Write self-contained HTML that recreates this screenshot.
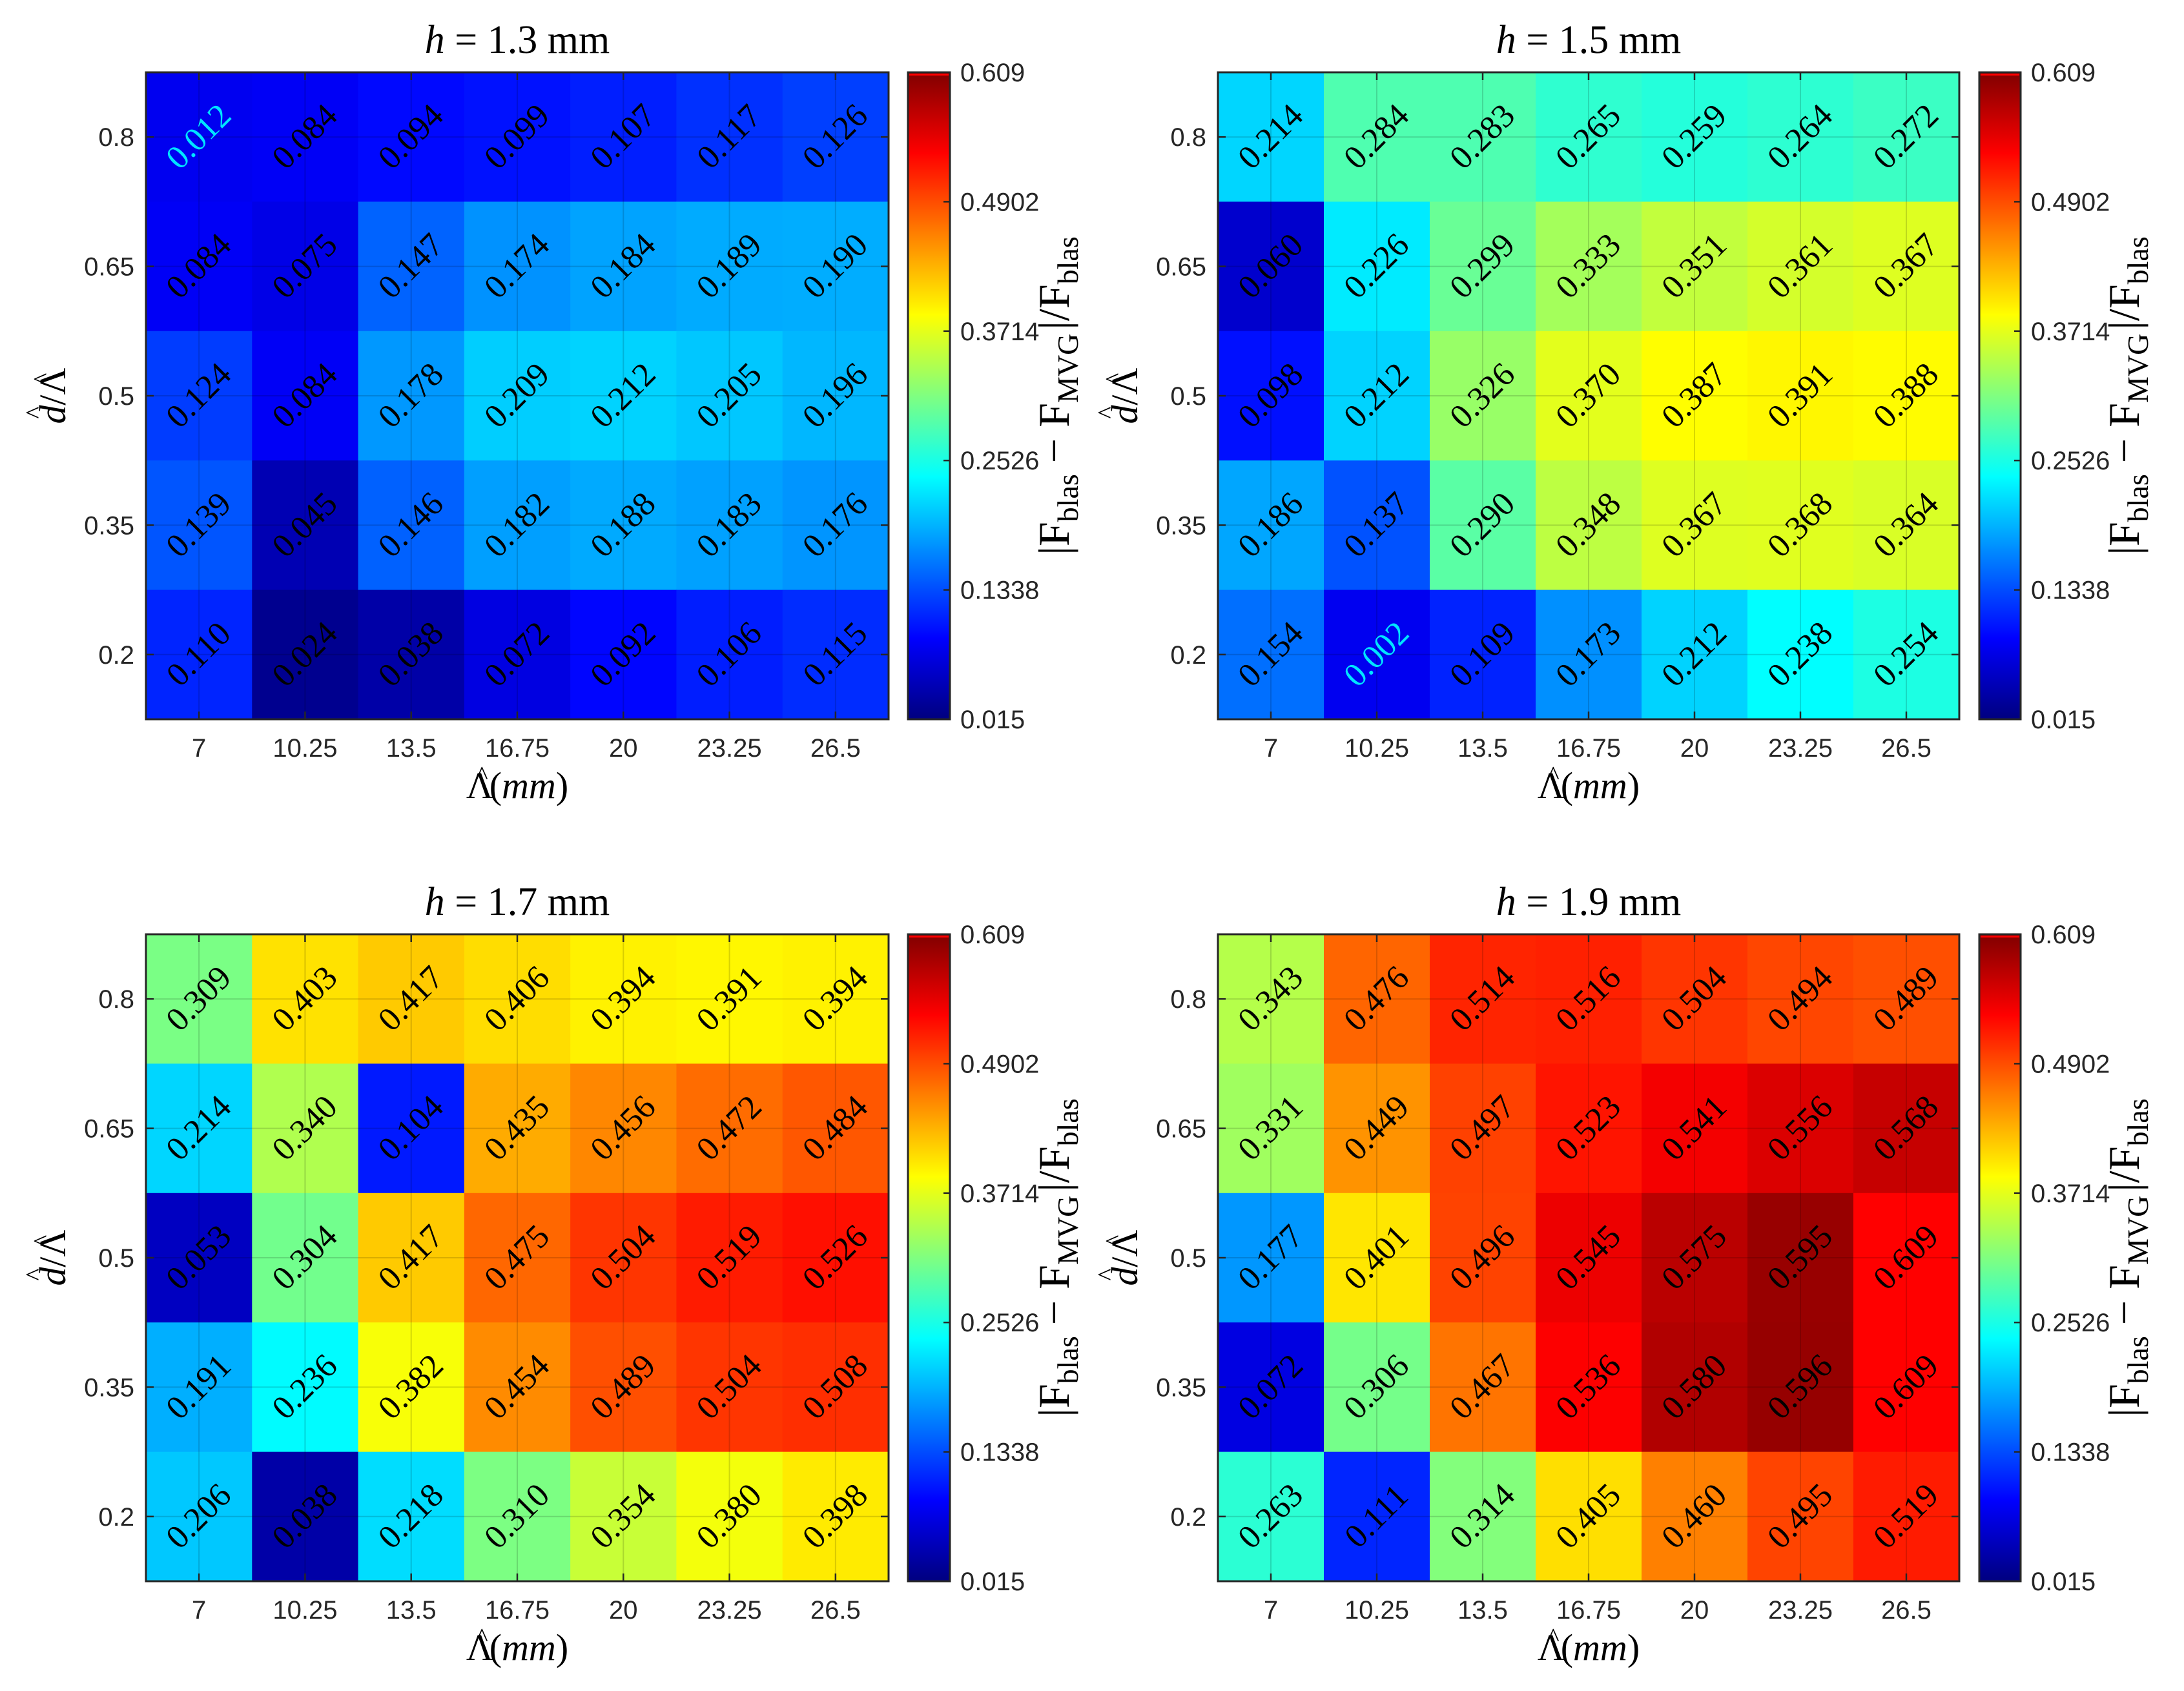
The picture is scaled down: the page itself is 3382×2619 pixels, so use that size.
<!DOCTYPE html>
<html><head><meta charset="utf-8">
<style>
html,body{margin:0;padding:0;background:#fff;}
svg{display:block;}
.tick{font-family:"Liberation Sans",sans-serif;font-size:40px;fill:#262626;}
.serif{font-family:"Liberation Serif",serif;fill:#000;}
</style></head>
<body>
<svg id="fig" width="3382" height="2619" viewBox="0 0 3382 2619" xmlns="http://www.w3.org/2000/svg"></svg>
<script>
// ---- data ----
const xCategories = ["7","10.25","13.5","16.75","20","23.25","26.5"];
const yCategories = ["0.8","0.65","0.5","0.35","0.2"];
const panelTitles = ["1.3","1.5","1.7","1.9"];
const cbTicks = ["0.015","0.1338","0.2526","0.3714","0.4902","0.609"];
const cMin = 0.015, cMax = 0.609;
const values13 = [
 [0.012,0.084,0.094,0.099,0.107,0.117,0.126],
 [0.084,0.075,0.147,0.174,0.184,0.189,0.190],
 [0.124,0.084,0.178,0.209,0.212,0.205,0.196],
 [0.139,0.045,0.146,0.182,0.188,0.183,0.176],
 [0.110,0.024,0.038,0.072,0.092,0.106,0.115]];
const values15 = [
 [0.214,0.284,0.283,0.265,0.259,0.264,0.272],
 [0.060,0.226,0.299,0.333,0.351,0.361,0.367],
 [0.098,0.212,0.326,0.370,0.387,0.391,0.388],
 [0.186,0.137,0.290,0.348,0.367,0.368,0.364],
 [0.154,0.002,0.109,0.173,0.212,0.238,0.254]];
const values17 = [
 [0.309,0.403,0.417,0.406,0.394,0.391,0.394],
 [0.214,0.340,0.104,0.435,0.456,0.472,0.484],
 [0.053,0.304,0.417,0.475,0.504,0.519,0.526],
 [0.191,0.236,0.382,0.454,0.489,0.504,0.508],
 [0.206,0.038,0.218,0.310,0.354,0.380,0.398]];
const values19 = [
 [0.343,0.476,0.514,0.516,0.504,0.494,0.489],
 [0.331,0.449,0.497,0.523,0.541,0.556,0.568],
 [0.177,0.401,0.496,0.545,0.575,0.595,0.609],
 [0.072,0.306,0.467,0.536,0.580,0.596,0.609],
 [0.263,0.111,0.314,0.405,0.460,0.495,0.519]];
const panelValues = [values13, values15, values17, values19];

// ---- layout ----
const NS = "http://www.w3.org/2000/svg";
const svg = document.getElementById('fig');
const layouts = [
 {x0:226,x1:1376,y0:112,y1:1114,cb0:1406,cb1:1471,lab:1655},
 {x0:1886,x1:3034,y0:112,y1:1114,cb0:3065,cb1:3129,lab:3312},
 {x0:226,x1:1376,y0:1447,y1:2449,cb0:1406,cb1:1471,lab:1655},
 {x0:1886,x1:3034,y0:1447,y1:2449,cb0:3065,cb1:3129,lab:3312}];

function mk(tag, attrs, parent){
  const e = document.createElementNS(NS, tag);
  for (const k in attrs) e.setAttribute(k, attrs[k]);
  (parent||svg).appendChild(e);
  return e;
}
function clamp(v){return Math.max(0,Math.min(1,v));}
function jet(v){
  const t = clamp((v-cMin)/(cMax-cMin));
  const r = clamp(1.5-Math.abs(4*t-3)), g = clamp(1.5-Math.abs(4*t-2)), b = clamp(1.5-Math.abs(4*t-1));
  return `rgb(${Math.round(r*255)},${Math.round(g*255)},${Math.round(b*255)})`;
}
function cellColor(v){
  if (v >= cMax - 1e-9) return 'rgb(255,0,0)';
  if (v < cMin) return 'rgb(0,0,240)';
  return jet(v);
}

const defs = mk('defs',{});
const grad = mk('linearGradient',{id:'jetg',x1:0,y1:1,x2:0,y2:0},defs);
for (let i=0;i<=40;i++){
  const v = cMin+(cMax-cMin)*i/40;
  mk('stop',{offset:(i/40),'stop-color':jet(v)},grad);
}

panelValues.forEach((vals,p)=>{
  const L = layouts[p];
  const g = mk('g',{});
  
  
  const nx = xCategories.length, ny = yCategories.length;
  const cw = (L.x1-L.x0)/nx, ch = (L.y1-L.y0)/ny;
  const xs = i => L.x0 + cw*i;
  const ys = j => L.y0 + ch*j;
  vals.forEach((row,j)=>row.forEach((v,i)=>{
    const r = mk('rect',{x:xs(i),y:ys(j),width:cw+0.5,height:ch+0.5,fill:cellColor(v)},g);
    
    
  }));
  for (let i=0;i<nx;i++){
    const x = xs(i)+cw/2;
    mk('line',{x1:x,y1:L.y0,x2:x,y2:L.y1,stroke:'#000','stroke-opacity':0.15,'stroke-width':2},g);
    mk('line',{x1:x,y1:L.y1,x2:x,y2:L.y1-12,stroke:'#262626','stroke-width':2.5},g);
    mk('line',{x1:x,y1:L.y0,x2:x,y2:L.y0+12,stroke:'#262626','stroke-width':2.5},g);
    const t = mk('text',{x:x,y:L.y1+58,'text-anchor':'middle',class:'tick'},g);
    t.textContent = xCategories[i];
    
    
  }
  for (let j=0;j<ny;j++){
    const y = ys(j)+ch/2;
    mk('line',{x1:L.x0,y1:y,x2:L.x1,y2:y,stroke:'#000','stroke-opacity':0.15,'stroke-width':2},g);
    mk('line',{x1:L.x0,y1:y,x2:L.x0+12,y2:y,stroke:'#262626','stroke-width':2.5},g);
    mk('line',{x1:L.x1,y1:y,x2:L.x1-12,y2:y,stroke:'#262626','stroke-width':2.5},g);
    const t = mk('text',{x:L.x0-18,y:y+14,'text-anchor':'end',class:'tick'},g);
    t.textContent = yCategories[j];
    
    
  }
  vals.forEach((row,j)=>row.forEach((v,i)=>{
    const cx = xs(i)+cw/2, cy = ys(j)+ch/2;
    const col = (v<cMin?'#00e5ff':'#000');
    const t = mk('text',{x:cx,y:cy+16,'text-anchor':'middle',class:'serif','font-size':52,
      transform:`rotate(-45 ${cx} ${cy})`,style:'fill:'+col},g);
    t.textContent = v.toFixed(3);
    
    
  }));
  mk('rect',{x:L.x0,y:L.y0,width:L.x1-L.x0,height:L.y1-L.y0,fill:'none',stroke:'#262626','stroke-width':3},g);
  const tt = mk('text',{x:(L.x0+L.x1)/2,y:L.y0-30,'text-anchor':'middle',class:'serif','font-size':62},g);
  tt.innerHTML = '<tspan font-style="italic">h</tspan> = '+panelTitles[p]+' mm';
  
  
  const xl = mk('text',{x:(L.x0+L.x1)/2,y:L.y1+122,'text-anchor':'middle',class:'serif','font-size':58},g);
  xl.innerHTML = 'Λ<tspan dx="-27" dy="-22" font-size="40">^</tspan><tspan dx="2" dy="22">(</tspan><tspan font-style="italic">mm</tspan>)';
  
  
  const ym = (L.y0+L.y1)/2, yx = L.x0-125;
  const yl = mk('text',{x:yx,y:ym,'text-anchor':'middle',class:'serif','font-size':58,transform:`rotate(-90 ${yx} ${ym})`},g);
  yl.innerHTML = '<tspan font-style="italic">d</tspan><tspan dx="-21" dy="-34" font-size="40">^</tspan><tspan dx="2" dy="34">/Λ</tspan><tspan dx="-27" dy="-22" font-size="40">^</tspan>';
  
  
  const cb = mk('rect',{x:L.cb0,y:L.y0,width:L.cb1-L.cb0,height:L.y1-L.y0,fill:'url(#jetg)',stroke:'#262626','stroke-width':3},g);
  
  
  mk('rect',{x:L.cb0+2,y:L.y0+2,width:L.cb1-L.cb0-4,height:3,fill:'#ff0000'},g);
  cbTicks.forEach((s,k)=>{
    const y = L.y1 - (parseFloat(s)-cMin)/(cMax-cMin)*(L.y1-L.y0);
    mk('line',{x1:L.cb1,y1:y,x2:L.cb1-10,y2:y,stroke:'#262626','stroke-width':2.5},g);
    const t = mk('text',{x:L.cb1+16,y:y+14,class:'tick'},g);
    t.textContent = s;
    
    
  });
  const lx = L.lab;
  const cl = mk('text',{x:lx,y:ym,'text-anchor':'middle',class:'serif','font-size':68,transform:`rotate(-90 ${lx} ${ym})`},g);
  cl.innerHTML = '|F<tspan font-size="46" dy="14">blas</tspan><tspan dy="-14"> − F</tspan><tspan font-size="46" dy="14">MVG</tspan><tspan dx="6" dy="-14">|/F</tspan><tspan font-size="46" dy="14">blas</tspan>';
  
  
});
</script>
</body></html>
